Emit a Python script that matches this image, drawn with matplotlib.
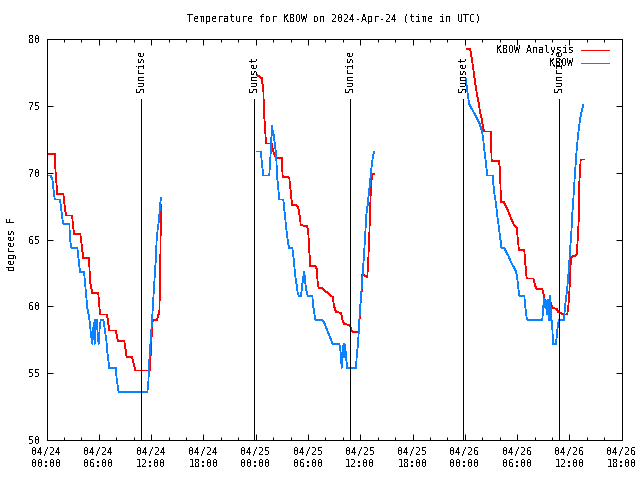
import matplotlib
matplotlib.use('Agg')
from matplotlib import pyplot as plt
from matplotlib.ticker import MultipleLocator, FixedLocator

plt.rcParams['font.family'] = ['DejaVu Sans Mono']
plt.rcParams['font.size'] = 7.2
plt.rcParams['text.antialiased'] = False
plt.rcParams['lines.antialiased'] = False

# hours after 2024-04-24 00:00 UTC, temperature (F)
ana_day1 = [(0.17, 71.4), (0.94, 71.4), (1.03, 70.2), (1.24, 68.4), (1.93, 68.4), (2.09, 67.5),
            (2.24, 66.8), (2.93, 66.8), (3.16, 65.4), (3.88, 65.4), (4.22, 63.6), (4.88, 63.6),
            (5.0, 61.8), (5.26, 61.0), (5.94, 61.0), (6.14, 59.4), (6.94, 59.4), (7.21, 58.2),
            (7.94, 58.2), (8.20, 57.4), (8.93, 57.4), (9.20, 56.2), (9.81, 56.2), (10.19, 55.2),
            (11.88, 55.2), (11.99, 57.0), (12.19, 59.0), (12.71, 59.0), (12.79, 59.4), (12.94, 59.4),
            (13.02, 61.5), (13.10, 65.6), (13.17, 67.6)]
ana_day2 = [(24.19, 77.3), (24.69, 77.1), (24.88, 76.2), (24.96, 74.5), (25.11, 73.0), (25.19, 72.2),
            (25.84, 72.2), (26.02, 71.6), (26.33, 71.1), (26.99, 71.1), (27.10, 69.7), (27.74, 69.7),
            (27.86, 69.6), (28.02, 68.6), (28.17, 67.6), (28.63, 67.6), (28.89, 67.4), (29.09, 66.6),
            (29.17, 66.1), (29.92, 66.0), (30.04, 65.5), (30.15, 64.2), (30.27, 63.0), (30.89, 63.0),
            (31.00, 62.8), (31.12, 61.8), (31.23, 61.4), (31.53, 61.4), (32.84, 60.7), (32.99, 60.0),
            (33.22, 59.6), (33.79, 59.5), (33.99, 58.9), (34.17, 58.7), (34.82, 58.6), (35.02, 58.2),
            (35.20, 58.1), (35.78, 58.1), (35.89, 58.5), (35.97, 59.8), (36.17, 61.2), (36.23, 62.4),
            (36.81, 62.2), (36.92, 63.4), (37.08, 66.1), (37.20, 68.5), (37.35, 69.9), (37.61, 69.9)]
ana_day3 = [(48.21, 79.3), (48.59, 79.3), (48.71, 78.9), (48.90, 78.1), (49.05, 77.4), (49.17, 76.8),
            (49.36, 76.0), (49.54, 75.4), (49.74, 74.6), (49.94, 74.0), (50.05, 73.6), (50.20, 73.1),
            (50.97, 73.1), (51.08, 70.9), (51.92, 70.9), (52.03, 70.2), (52.15, 67.8), (52.49, 67.8),
            (52.80, 67.4), (53.18, 66.8), (53.56, 66.2), (53.76, 66.0), (53.95, 65.9), (54.07, 65.1),
            (54.21, 64.2), (54.82, 64.2), (54.94, 63.2), (55.10, 62.1), (55.86, 62.1), (56.05, 61.6),
            (56.25, 61.3), (56.89, 61.3), (57.00, 61.0), (57.20, 60.4), (57.77, 60.4), (57.89, 60.2),
            (58.08, 59.9), (58.54, 59.8), (58.72, 59.6), (59.30, 59.4), (59.76, 59.4), (59.87, 60.0),
            (59.99, 61.0), (60.07, 62.2), (60.18, 63.7), (60.64, 63.8), (60.84, 63.9), (60.95, 65.0),
            (61.07, 66.5), (61.13, 69.2), (61.29, 71.0), (61.67, 71.0)]

obs_day1 = [(0.17, 69.8), (0.48, 69.8), (0.67, 69.5), (0.78, 68.9), (0.94, 68.0), (1.55, 68.0),
            (1.70, 67.2), (1.81, 66.6), (1.93, 66.2), (2.62, 66.2), (2.70, 65.0), (2.85, 64.4),
            (3.53, 64.4), (3.69, 63.5), (3.84, 62.6), (4.30, 62.6), (4.42, 61.8), (4.53, 61.0),
            (4.68, 59.9), (4.84, 59.4), (4.96, 58.8), (5.07, 58.1), (5.19, 57.5), (5.26, 57.2),
            (5.42, 58.8), (5.53, 57.2), (5.60, 59.0), (5.76, 59.0), (5.91, 57.6), (5.99, 57.2),
            (6.10, 58.4), (6.22, 59.0), (6.52, 59.0), (6.71, 58.2), (6.86, 57.5), (6.98, 56.6),
            (7.09, 56.0), (7.21, 55.4), (7.94, 55.4), (8.05, 54.6), (8.20, 53.9), (8.28, 53.6),
            (11.57, 53.6), (11.68, 54.2), (11.80, 56.0), (11.96, 57.5), (12.11, 59.0), (12.25, 60.5),
            (12.41, 62.2), (12.53, 63.4), (12.64, 65.0), (12.79, 66.0), (12.91, 66.4), (13.02, 67.6),
            (13.14, 68.1)]
obs_day2 = [(24.19, 71.6), (24.58, 71.6), (24.69, 70.9), (24.88, 69.8), (25.56, 69.8), (25.68, 71.1),
            (25.76, 71.8), (25.84, 73.4), (25.91, 73.5), (25.99, 72.8), (26.02, 73.1), (26.14, 72.5),
            (26.25, 71.9), (26.33, 71.5), (26.41, 70.5), (26.48, 69.6), (26.60, 68.8), (26.71, 68.0),
            (27.17, 68.0), (27.29, 67.2), (27.37, 66.8), (27.48, 66.0), (27.59, 65.4), (27.71, 64.8),
            (27.82, 64.4), (28.20, 64.4), (28.32, 63.8), (28.43, 63.1), (28.51, 62.5), (28.63, 61.9),
            (28.74, 61.5), (28.82, 61.0), (28.94, 60.8), (29.20, 60.8), (29.32, 61.5), (29.47, 62.2),
            (29.58, 62.6), (29.69, 61.8), (29.81, 61.2), (29.97, 60.8), (30.50, 60.8), (30.61, 60.0),
            (30.73, 59.5), (30.84, 59.0), (31.58, 59.0), (31.84, 58.8), (32.84, 57.2), (33.60, 57.2),
            (33.76, 56.5), (33.87, 55.4), (33.99, 56.8), (34.10, 57.2), (34.17, 56.2), (34.28, 57.1),
            (34.36, 56.2), (34.51, 55.4), (35.51, 55.4), (35.59, 56.2), (35.74, 57.2), (35.86, 58.5),
            (35.97, 59.8), (36.12, 61.0), (36.24, 62.1), (36.35, 63.1), (36.46, 64.2), (36.58, 65.5),
            (36.69, 66.8), (36.85, 67.6), (36.97, 68.4), (37.08, 69.0), (37.20, 69.8), (37.31, 70.5),
            (37.43, 71.1), (37.58, 71.6)]
obs_day3 = [(48.10, 77.0), (48.21, 76.5), (48.33, 75.9), (48.48, 75.2), (48.71, 74.9), (48.97, 74.6),
            (49.28, 74.2), (49.54, 73.9), (49.74, 73.6), (49.94, 73.2), (50.00, 73.0), (50.12, 72.5),
            (50.20, 71.8), (50.31, 71.4), (50.43, 70.6), (50.58, 69.8), (51.20, 69.8), (51.27, 69.2),
            (51.38, 68.5), (51.50, 68.0), (51.66, 67.2), (51.77, 66.5), (51.92, 65.9), (52.03, 65.2),
            (52.15, 64.8), (52.18, 64.4), (52.53, 64.4), (52.72, 64.1), (52.99, 63.8), (53.38, 63.2),
            (53.64, 62.9), (53.87, 62.6), (54.02, 62.1), (54.13, 61.4), (54.25, 60.8), (54.82, 60.8),
            (54.94, 60.0), (55.10, 59.1), (55.17, 59.0), (56.89, 59.0), (57.00, 60.0), (57.12, 60.6),
            (57.23, 59.9), (57.31, 60.4), (57.46, 59.4), (57.54, 60.5), (57.66, 59.0), (57.77, 60.8),
            (57.92, 59.0), (58.00, 58.9), (58.08, 57.8), (58.15, 57.2), (58.46, 57.2), (58.61, 58.2),
            (58.72, 58.8), (58.84, 59.0), (59.38, 59.0), (59.49, 60.0), (59.69, 61.0), (59.84, 62.0),
            (59.95, 63.0), (60.07, 64.2), (60.22, 65.5), (60.33, 66.9), (60.45, 68.0), (60.64, 70.0),
            (60.84, 71.8), (61.02, 73.0), (61.21, 74.0), (61.41, 74.6), (61.59, 75.1)]

sun_hours = [10.88, 23.84, 34.85, 47.82, 58.84]
sun_labels = ['Sunrise', 'Sunset', 'Sunrise', 'Sunset', 'Sunrise']

tick_hours = list(range(0, 67, 6))
tick_labels = ['04/24\n00:00', '04/24\n06:00', '04/24\n12:00', '04/24\n18:00',
               '04/25\n00:00', '04/25\n06:00', '04/25\n12:00', '04/25\n18:00',
               '04/26\n00:00', '04/26\n06:00', '04/26\n12:00', '04/26\n18:00']

red = '#ff0000'
blue = '#0a82ff'
lw = 0.72  # one pixel
data_lw = 0.55

fig = plt.figure(figsize=(6.4, 4.8), dpi=100)
ax = fig.add_axes([46.5/640, 40/480, 575.2/640, 400.7/480])

for k, day in enumerate([ana_day1, ana_day2, ana_day3]):
  h, t = zip(*day)
  l = ax.plot(h, t, color=red, lw=data_lw, label='KBOW Analysis' if k == 0 else None)
  if k == 0: l_ana = l[0]
for k, day in enumerate([obs_day1, obs_day2, obs_day3]):
  h, t = zip(*day)
  l = ax.plot(h, t, color=blue, lw=data_lw, label='KBOW' if k == 0 else None)
  if k == 0: l_obs = l[0]

ax.vlines(sun_hours, 50, 75.5, color='black', lw=lw)
for h, s in zip(sun_hours, sun_labels):
  ax.text(h, 76.05, s, rotation=90, ha='center', va='bottom')

ax.set_xlim(0, 66)
ax.set_ylim(50, 80)
ax.xaxis.set_major_locator(FixedLocator(tick_hours))
ax.set_xticklabels(tick_labels)
ax.xaxis.set_minor_locator(MultipleLocator(2))
ax.yaxis.set_major_locator(MultipleLocator(5))
ax.tick_params(which='both', direction='in', top=True, right=True, width=lw, color='black')
ax.tick_params(which='major', length=4.5)
ax.tick_params(which='minor', length=2.3)
ax.tick_params(axis='y', pad=4.5)
ax.tick_params(axis='x', pad=5)
for sp in ax.spines.values():
  sp.set_linewidth(lw)

ax.legend(handles=[l_ana, l_obs], loc='upper right', bbox_to_anchor=(0.9785, 0.985),
          markerfirst=False, frameon=False, handlelength=2.8, handletextpad=0.75,
          labelspacing=0.3, borderpad=0, borderaxespad=0)

fig.text(334/640, 1 - 19/480, 'Temperature for KBOW on 2024-Apr-24 (time in UTC)', ha='center', va='center')
fig.text(12/640, 1 - 244/480, 'degrees F', rotation=90, ha='center', va='center')

fig.savefig('out.png', dpi=100)
